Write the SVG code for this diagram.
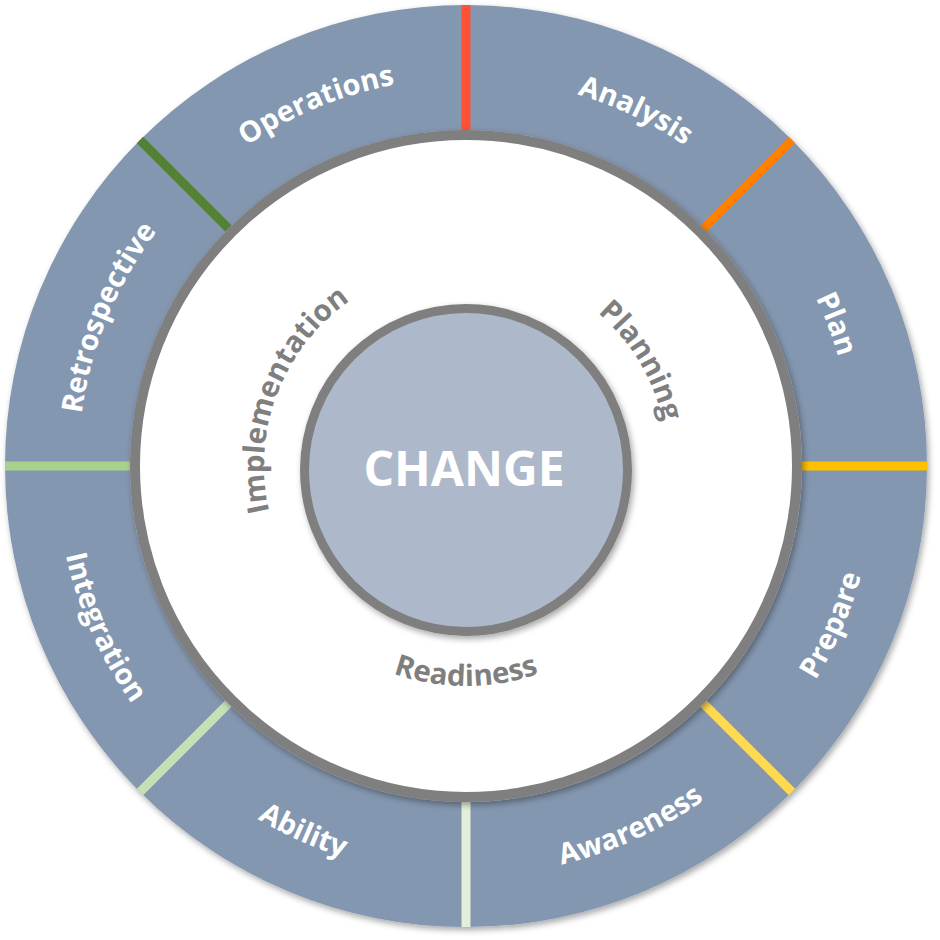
<svg xmlns="http://www.w3.org/2000/svg" width="940" height="940" viewBox="0 0 940 940">
  <defs>
    <filter id="shadow" x="-10%" y="-10%" width="120%" height="120%">
      <feDropShadow dx="2" dy="3" stdDeviation="3" flood-color="#000" flood-opacity="0.35"/>
    </filter>
    <path id="p-operations" d="M121.84,286.84 A388,388 0 0 1 582.68,95.96"/>
    <path id="p-analysis" d="M368.85,90.36 A388,388 0 0 1 819.06,305.10"/>
    <path id="p-plan" d="M654.11,126.65 A388,388 0 0 1 832.86,592.32"/>
    <path id="p-retro" d="M95.96,582.68 A388,388 0 0 1 286.84,121.84"/>
    <path id="p-prepare" d="M648.94,832.92 A410,410 0 0 0 859.12,349.55"/>
    <path id="p-awareness" d="M356.43,861.09 A410,410 0 0 0 836.06,642.51"/>
    <path id="p-ability" d="M97.50,645.73 A410,410 0 0 0 579.01,860.12"/>
    <path id="p-integration" d="M71.88,352.99 A410,410 0 0 0 286.27,834.50"/>
    <path id="p-implementation" d="M289.33,563.93 A202,202 0 0 1 400.23,275.00"/>
    <path id="p-planning" d="M497.60,266.49 A202,202 0 0 1 656.99,531.77"/>
    <path id="p-readiness" d="M297.47,607.41 A220,220 0 0 0 634.53,607.41"/>
  </defs>
  <style>
    .seg { fill: #8497B0; }
    .lbl { font-family: "Open Sans", "Liberation Sans", sans-serif; font-weight: bold; font-size: 29px; fill: #FFFFFF; }
    .inner { font-family: "Open Sans", "Liberation Sans", sans-serif; font-weight: bold; font-size: 29.5px; fill: #7F7F7F; }
    .div { stroke-width: 9; fill: none; }
  </style>

  <g id="ring" filter="url(#shadow)">
    <g id="operations">
      <path class="seg" d="M140.02,140.02 A461,461 0 0 1 466,5 L466,130 A336,336 0 0 0 228.41,228.41 Z"/>
    </g>
    <g id="analysis">
      <path class="seg" d="M466,5 A461,461 0 0 1 791.98,140.02 L703.59,228.41 A336,336 0 0 0 466,130 Z"/>
    </g>
    <g id="plan">
      <path class="seg" d="M791.98,140.02 A461,461 0 0 1 927,466 L802,466 A336,336 0 0 0 703.59,228.41 Z"/>
    </g>
    <g id="prepare">
      <path class="seg" d="M927,466 A461,461 0 0 1 791.98,791.98 L703.59,703.59 A336,336 0 0 0 802,466 Z"/>
    </g>
    <g id="awareness">
      <path class="seg" d="M791.98,791.98 A461,461 0 0 1 466,927 L466,802 A336,336 0 0 0 703.59,703.59 Z"/>
    </g>
    <g id="ability">
      <path class="seg" d="M466,927 A461,461 0 0 1 140.02,791.98 L228.41,703.59 A336,336 0 0 0 466,802 Z"/>
    </g>
    <g id="integration">
      <path class="seg" d="M140.02,791.98 A461,461 0 0 1 5,466 L130,466 A336,336 0 0 0 228.41,703.59 Z"/>
    </g>
    <g id="retrospective">
      <path class="seg" d="M5,466 A461,461 0 0 1 140.02,140.02 L228.41,228.41 A336,336 0 0 0 130,466 Z"/>
    </g>
  </g>

  <g id="dividers">
    <line class="div" stroke="#FF5038" x1="466" y1="5" x2="466" y2="130"/>
    <line class="div" stroke="#FF8000" x1="791.98" y1="140.02" x2="703.59" y2="228.41"/>
    <line class="div" stroke="#FFC000" x1="927" y1="466" x2="802" y2="466"/>
    <line class="div" stroke="#FFD94F" x1="791.98" y1="791.98" x2="703.59" y2="703.59"/>
    <line class="div" stroke="#E2EFDA" x1="466" y1="927" x2="466" y2="802"/>
    <line class="div" stroke="#C5E0B4" x1="140.02" y1="791.98" x2="228.41" y2="703.59"/>
    <line class="div" stroke="#A9D18E" x1="5" y1="466" x2="130" y2="466"/>
    <line class="div" stroke="#548235" x1="140.02" y1="140.02" x2="228.41" y2="228.41"/>
  </g>

  <g id="inner-ring">
    <circle cx="466" cy="466" r="331" fill="#FFFFFF" stroke="#7F7F7F" stroke-width="10" filter="url(#shadow)"/>
    <circle cx="466" cy="466" r="325" fill="#FFFFFF"/>
  </g>

  <g id="labels">
    <text class="lbl"><textPath href="#p-operations" startOffset="50%" text-anchor="middle">Operations</textPath></text>
    <text class="lbl"><textPath href="#p-analysis" startOffset="50%" text-anchor="middle">Analysis</textPath></text>
    <text class="lbl"><textPath href="#p-plan" startOffset="50%" text-anchor="middle">Plan</textPath></text>
    <text class="lbl"><textPath href="#p-retro" startOffset="50%" text-anchor="middle">Retrospective</textPath></text>
    <text class="lbl"><textPath href="#p-prepare" startOffset="50%" text-anchor="middle">Prepare</textPath></text>
    <text class="lbl"><textPath href="#p-awareness" startOffset="50%" text-anchor="middle">Awareness</textPath></text>
    <text class="lbl"><textPath href="#p-ability" startOffset="50%" text-anchor="middle">Ability</textPath></text>
    <text class="lbl"><textPath href="#p-integration" startOffset="50%" text-anchor="middle">Integration</textPath></text>
  </g>

  <g id="phases">
    <text class="inner"><textPath href="#p-implementation" startOffset="50%" text-anchor="middle">Implementation</textPath></text>
    <text class="inner"><textPath href="#p-planning" startOffset="50%" text-anchor="middle">Planning</textPath></text>
    <text class="inner"><textPath href="#p-readiness" startOffset="50%" text-anchor="middle">Readiness</textPath></text>
  </g>

  <g id="change">
    <circle cx="466" cy="470" r="161.5" fill="#ADB9CA" stroke="#7F7F7F" stroke-width="9" filter="url(#shadow)"/>
    <text x="464" y="486" text-anchor="middle" font-family="'Open Sans', 'Liberation Sans', sans-serif" font-weight="bold" font-size="48" fill="#FFFFFF">CHANGE</text>
  </g>
</svg>
